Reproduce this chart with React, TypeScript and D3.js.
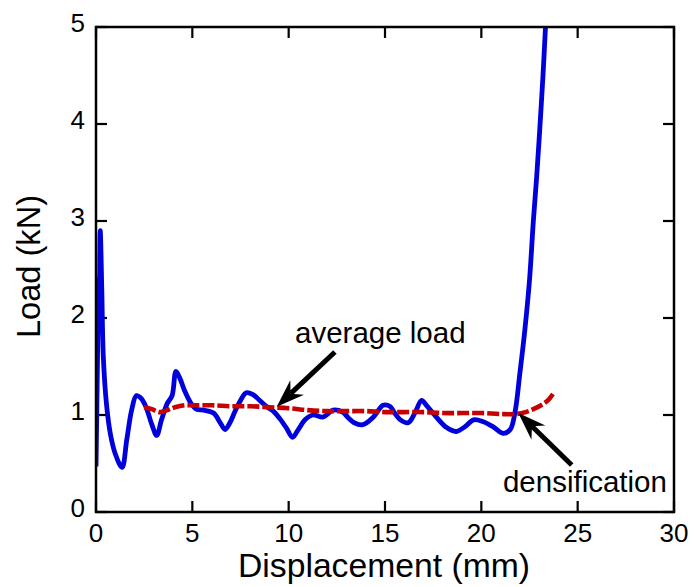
import React, { useEffect, useRef } from "react";
import * as d3 from "d3";

// blue curve: load vs displacement (mm, kN)
const loadX = [
  0, 0.08, 0.13, 0.17, 0.22, 0.3, 0.38, 0.55, 0.75, 1.0, 1.35, 1.6, 1.85, 2.1, 2.35, 2.6, 2.9, 3.15,
  3.4, 3.7, 3.95, 4.15, 4.35, 4.6, 4.9, 5.2, 5.6, 6.1, 6.45, 6.7, 6.95, 7.2, 7.5, 7.8, 8.15, 8.5,
  8.9, 9.2, 9.55, 9.9, 10.2, 10.5, 10.85, 11.25, 11.8, 12.3, 12.8, 13.1, 13.4, 13.85, 14.4, 14.9,
  15.25, 15.5, 15.8, 16.2, 16.55, 16.9, 17.15, 17.45, 17.7, 18.2, 18.7, 19.15, 19.6, 20.1, 20.6,
  21.15, 21.5, 21.75, 22.0, 22.26, 22.5, 22.7, 22.87, 23.04, 23.2, 23.33, 23.4,
];
const loadY = [
  0.47, 1.6, 2.4, 2.2, 2.9, 2.3, 1.6, 1.1, 0.8, 0.6, 0.46, 0.75, 1.05, 1.2, 1.17, 1.08, 0.9, 0.79,
  0.95, 1.12, 1.2, 1.45, 1.38, 1.25, 1.13, 1.06, 1.05, 1.02, 0.92, 0.85, 0.92, 1.03, 1.15, 1.23, 1.21, 1.15,
  1.08, 1.04, 0.96, 0.86, 0.77, 0.85, 0.95, 1.0, 0.98, 1.05, 1.03, 0.97, 0.92, 0.9, 0.98, 1.1,
  1.09, 1.02, 0.95, 0.92, 1.02, 1.15, 1.1, 1.03, 0.97, 0.87, 0.83, 0.88, 0.95, 0.93, 0.88,
  0.81, 0.85, 1.03, 1.43, 1.88, 2.39, 3.0, 3.45, 3.97, 4.5, 5.0, 5.3,
];

// red dashed curve: average load
const avgX = [
  2.5, 2.9, 3.3, 3.7, 4.1, 4.6, 5.0, 6.0, 7.0, 8.0, 9.0, 10.0, 11.0, 12.0, 13.0, 14.0, 15.0,
  16.0, 17.0, 18.0, 19.0, 20.0, 21.0, 21.8, 22.3, 22.7, 23.1, 23.45, 23.8,
];
const avgY = [
  1.08, 1.06, 1.03, 1.05, 1.08, 1.1, 1.1, 1.1, 1.09, 1.09, 1.08, 1.07, 1.05, 1.04, 1.04, 1.04, 1.03,
  1.03, 1.03, 1.02, 1.02, 1.02, 1.01, 1.01, 1.03, 1.06, 1.1, 1.15, 1.24,
];

const xTicks = [0, 5, 10, 15, 20, 25, 30];
const yTicks = [0, 1, 2, 3, 4, 5];

// annotations: [text, textX, textY, tailX, tailY, tipX, tipY] in data units
const notes: [string, number, number, number, number, number, number][] = [
  ["average load", 10.33, 1.74, 12.4, 1.65, 9.38, 1.086],
  ["densification", 21.12, 0.21, 24.69, 0.485, 21.92, 1.02],
];

const W = 694;
const H = 587;

export default function App() {
  const ref = useRef<SVGSVGElement>(null);

  useEffect(() => {
    const svg = d3.select(ref.current);
    svg.selectAll("*").remove();

    const x = d3.scaleLinear().domain([0, 30]).range([96, 674]);
    const y = d3.scaleLinear().domain([0, 5]).range([512, 27]);
    const font = "'Liberation Sans', Arial, Helvetica, sans-serif";

    svg
      .append("defs")
      .append("clipPath")
      .attr("id", "plotClip")
      .append("rect")
      .attr("x", x(0))
      .attr("y", y(5))
      .attr("width", x(30) - x(0))
      .attr("height", y(0) - y(5));

    // ticks inward on all four sides
    const tick = 11;
    const tg = svg.append("g").attr("stroke", "#000").attr("stroke-width", 2.2);
    xTicks.forEach((t) => {
      tg.append("line").attr("x1", x(t)).attr("x2", x(t)).attr("y1", y(0)).attr("y2", y(0) - tick);
      tg.append("line").attr("x1", x(t)).attr("x2", x(t)).attr("y1", y(5)).attr("y2", y(5) + tick);
    });
    yTicks.forEach((t) => {
      tg.append("line").attr("x1", x(0)).attr("x2", x(0) + tick).attr("y1", y(t)).attr("y2", y(t));
      tg.append("line").attr("x1", x(30)).attr("x2", x(30) - tick).attr("y1", y(t)).attr("y2", y(t));
    });

    svg
      .append("g")
      .selectAll("text")
      .data(xTicks)
      .join("text")
      .attr("x", (d) => x(d))
      .attr("y", 542)
      .attr("text-anchor", "middle")
      .attr("font-family", font)
      .attr("font-size", 26)
      .text((d) => d);

    svg
      .append("g")
      .selectAll("text")
      .data(yTicks)
      .join("text")
      .attr("x", 85)
      .attr("y", (d) => y(d) + 5)
      .attr("text-anchor", "end")
      .attr("font-family", font)
      .attr("font-size", 26)
      .text((d) => d);

    svg
      .append("text")
      .attr("x", 238)
      .attr("y", 577)
      .attr("font-family", font)
      .attr("font-size", 33.7)
      .text("Displacement (mm)");

    svg
      .append("text")
      .attr("transform", "translate(40,266.5) rotate(-90)")
      .attr("text-anchor", "middle")
      .attr("font-family", font)
      .attr("font-size", 32.6)
      .text("Load (kN)");

    const plot = svg.append("g").attr("clip-path", "url(#plotClip)");

    const blueLine = d3
      .line<number>()
      .x((d) => x(d))
      .y((d, i) => y(loadY[i]))
      .curve(d3.curveCatmullRom.alpha(0.5));

    const redLine = d3
      .line<number>()
      .x((d) => x(d))
      .y((d, i) => y(avgY[i]))
      .curve(d3.curveCatmullRom.alpha(0.5));

    plot
      .append("path")
      .attr("d", blueLine(loadX))
      .attr("fill", "none")
      .attr("stroke", "#0000dd")
      .attr("stroke-width", 4.8)
      .attr("stroke-linejoin", "round");

    plot
      .append("path")
      .attr("d", redLine(avgX))
      .attr("fill", "none")
      .attr("stroke", "#c80000")
      .attr("stroke-width", 4.6)
      .attr("stroke-dasharray", "12,3");

    // frame
    svg
      .append("rect")
      .attr("x", x(0))
      .attr("y", y(5))
      .attr("width", x(30) - x(0))
      .attr("height", y(0) - y(5))
      .attr("fill", "none")
      .attr("stroke", "#000")
      .attr("stroke-width", 2.5);

    // annotations with arrows
    notes.forEach(([label, tx, ty, ax, ay, bx, by]) => {
      const x0 = x(ax), y0 = y(ay), x1 = x(bx), y1 = y(by);
      const ang = Math.atan2(y1 - y0, x1 - x0);
      const L = 28, hw = 10, notch = 9;
      const ux = Math.cos(ang), uy = Math.sin(ang);
      const px = -uy, py = ux;
      const bxp = x1 - ux * L, byp = y1 - uy * L;
      const nx = x1 - ux * (L - notch), ny = y1 - uy * (L - notch);
      svg
        .append("line")
        .attr("x1", x0)
        .attr("y1", y0)
        .attr("x2", nx)
        .attr("y2", ny)
        .attr("stroke", "#000")
        .attr("stroke-width", 5);
      svg
        .append("path")
        .attr(
          "d",
          `M${x1},${y1}L${bxp + px * hw},${byp + py * hw}L${nx},${ny}L${bxp - px * hw},${byp - py * hw}Z`
        )
        .attr("fill", "#000");
      svg
        .append("text")
        .attr("x", x(tx))
        .attr("y", y(ty))
        .attr("font-family", font)
        .attr("font-size", 29.5)
        .text(label);
    });
  }, []);

  return (
    <svg
      ref={ref}
      width={W}
      height={H}
      style={{ position: "absolute", left: 0, top: 0, background: "#fff" }}
    />
  );
}
